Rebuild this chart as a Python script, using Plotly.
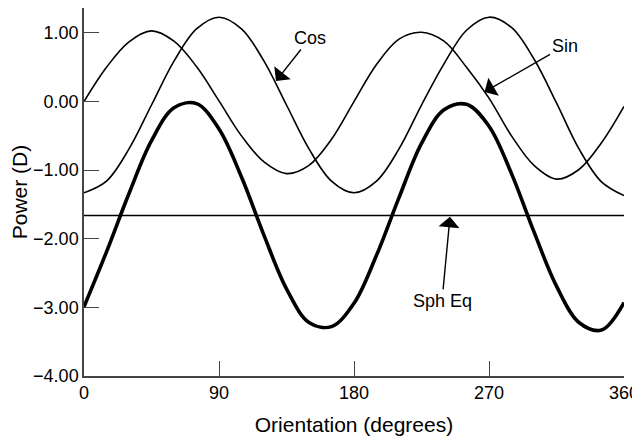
import plotly.graph_objects as go

# Power (D), every 15 degrees
angle = [0, 15, 30, 45, 60, 75, 90, 105, 120, 135, 150, 165, 180,
         195, 210, 225, 240, 255, 270, 285, 300, 315, 330, 345, 360]

sin_power = [0.00, 0.50, 0.87, 1.03, 0.88, 0.51, 0.01, -0.50, -0.88, -1.05, -0.93, -0.55, 0.00,
             0.54, 0.91, 1.01, 0.88, 0.50, 0.05, -0.50, -0.93, -1.13, -0.99, -0.60, -0.07]

cos_power = [-1.33, -1.16, -0.69, -0.05, 0.59, 1.06, 1.23, 1.06, 0.59, -0.05, -0.69, -1.16, -1.33,
             -1.16, -0.69, -0.05, 0.55, 1.04, 1.23, 1.08, 0.62, -0.02, -0.69, -1.17, -1.37]

total_power = [-2.99, -2.19, -1.34, -0.57, -0.09, -0.03, -0.40, -1.10, -1.95, -2.73, -3.22, -3.28, -2.94,
               -2.24, -1.40, -0.61, -0.12, -0.04, -0.36, -1.05, -1.90, -2.69, -3.22, -3.33, -2.93]

sph_eq_angle = [0, 360]
sph_eq_power = [-1.66, -1.66]

x_ticks = [0, 90, 180, 270, 360]
y_ticks = [-4, -3, -2, -1, 0, 1]

FONT = "Liberation Sans, Arial, Helvetica, sans-serif"
AXIS_COLOR = "#444444"

fig = go.Figure()

# thin component curves
fig.add_trace(go.Scatter(x=angle, y=sin_power, mode="lines", name="Sin",
                         line=dict(color="black", width=1.6, shape="spline")))
fig.add_trace(go.Scatter(x=angle, y=cos_power, mode="lines", name="Cos",
                         line=dict(color="black", width=1.6, shape="spline")))
# spherical equivalent (flat)
fig.add_trace(go.Scatter(x=sph_eq_angle, y=sph_eq_power, mode="lines", name="Sph Eq",
                         line=dict(color="black", width=1.6)))
# total power, bold
fig.add_trace(go.Scatter(x=angle, y=total_power, mode="lines", name="Total",
                         line=dict(color="black", width=3.6, shape="spline")))

arrow_style = dict(showarrow=True, arrowhead=1, arrowsize=2.5, arrowwidth=1.4,
                   arrowcolor="black", font=dict(size=18, color="black", family=FONT))

fig.add_annotation(x=128, y=0.30, text="Cos", ax=34, ay=-43, **arrow_style)
fig.add_annotation(x=267, y=0.14, text="Sin", ax=80, ay=-46, **arrow_style)
fig.add_annotation(x=244, y=-1.68, text="Sph Eq", ax=-8, ay=84, **arrow_style)

# page body adds an 8px offset, so the figure is sized to fit inside the window
fig.update_layout(
    width=632, height=431,
    margin=dict(l=76, r=16, t=0, b=63),
    paper_bgcolor="white", plot_bgcolor="white",
    showlegend=False,
    font=dict(family=FONT, color="black"),
)

fig.update_xaxes(
    range=[0, 360], tickvals=x_ticks,
    ticks="inside", ticklen=15, tickwidth=1.3, tickcolor=AXIS_COLOR,
    showline=True, linecolor=AXIS_COLOR, linewidth=1.5,
    showgrid=False, zeroline=False,
    tickfont=dict(size=18),
    title=dict(text="Orientation (degrees)", font=dict(size=21), standoff=15),
)

fig.update_yaxes(
    range=[-4, 1.364], tickvals=y_ticks, tickformat=".2f",
    ticks="inside", ticklen=15, tickwidth=1.3, tickcolor=AXIS_COLOR,
    showline=True, linecolor=AXIS_COLOR, linewidth=1.5,
    showgrid=False, zeroline=False,
    tickfont=dict(size=18),
    title=dict(text="Power (D)", font=dict(size=21), standoff=6),
)

fig.write_html("out.html")
